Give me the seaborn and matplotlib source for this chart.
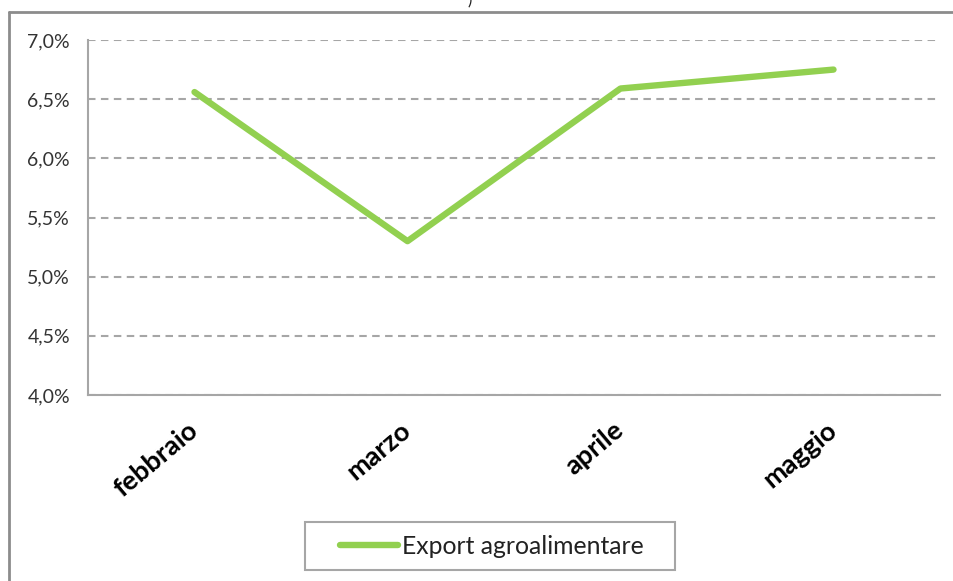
import matplotlib
matplotlib.use("Agg")
import matplotlib.pyplot as plt
import seaborn as sns
import pandas as pd
from matplotlib.lines import Line2D
from matplotlib.patches import Rectangle
from matplotlib.ticker import FuncFormatter

months = ["febbraio", "marzo", "aprile", "maggio"]
export_agro = [6.56, 5.30, 6.59, 6.75]
series_name = "Export agroalimentare"
y_ticks = [4.0, 4.5, 5.0, 5.5, 6.0, 6.5, 7.0]

df = pd.DataFrame({"mese": months, "valore": export_agro, "serie": series_name})

sns.set_style("white")
plt.rcParams["font.family"] = ["Lato", "DejaVu Sans"]

W, H = 954, 581
fig = plt.figure(figsize=(W/100, H/100), dpi=100)
ax = fig.add_axes([88/W, 1-395/H, (940-88)/W, (395-40)/H])

green = "#92D050"
grid_gray = "#A6A6A6"
sns.lineplot(data=df, x="mese", y="valore", color=green, linewidth=4.6,
             ax=ax, sort=False, legend=False, solid_capstyle="round")

ax.set_xlim(-0.5, 3.5)
ax.set_ylim(4.0, 7.0)
ax.set_yticks(y_ticks)
ax.yaxis.set_major_formatter(FuncFormatter(lambda v, p: f"{v:.1f}%".replace(".", ",")))
ax.set_xlabel("")
ax.set_ylabel("")

ax.yaxis.grid(True, color=grid_gray, linestyle=(0, (3.6, 2.6)), linewidth=1.5)
ax.xaxis.grid(False)
ax.set_axisbelow(True)
for s in ["top", "right"]:
    ax.spines[s].set_visible(False)
for s in ["left", "bottom"]:
    ax.spines[s].set_color(grid_gray)
    ax.spines[s].set_linewidth(1.5)

ax.tick_params(axis="y", length=0, pad=13, labelsize=14, labelcolor="#333333")
ax.tick_params(axis="x", length=0, pad=23, labelsize=19.5, labelcolor="#000000")
for lab in ax.get_xticklabels():
    lab.set_rotation(40)
    lab.set_ha("right")
    lab.set_va("center")
    lab.set_rotation_mode("anchor")
    lab.set_fontweight("bold")

# legend
handle = Line2D([0], [0], color=green, linewidth=4.6, solid_capstyle="round")
leg = fig.legend([handle], [series_name], loc="center",
                 bbox_to_anchor=(492/W, 1-546/H), frameon=False,
                 handlelength=2.35, handletextpad=0.15,
                 borderpad=0, borderaxespad=0, prop={"size": 17.8})
for t in leg.get_texts():
    t.set_color("#222222")
fig.add_artist(Rectangle((305/W, 1-570/H), (675-305)/W, (570-522)/H,
                         transform=fig.transFigure, fill=False,
                         edgecolor=grid_gray, linewidth=1.5))

# outer border (chart frame)
fig.add_artist(Line2D([9/W, 9/W], [0, 1-12/H], transform=fig.transFigure,
                      color="#8C8C8C", linewidth=2))
fig.add_artist(Line2D([9/W, 1], [1-12/H, 1-12/H], transform=fig.transFigure,
                      color="#8C8C8C", linewidth=2))
# clipped title fragment
fig.text(470/W, 1.0, ")", ha="center", va="center", fontsize=12, color="#222222")

fig.savefig("out.png", dpi=100)
